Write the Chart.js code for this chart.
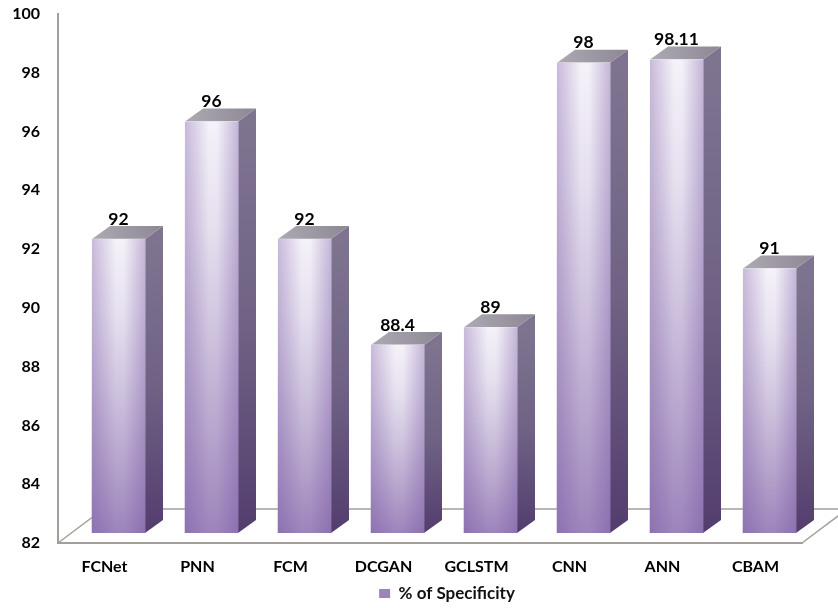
<!DOCTYPE html>
<html>
<head>
<meta charset="utf-8">
<title>% of Specificity</title>
<script src="https://cdn.jsdelivr.net/npm/chart.js@4"></script>
<style>
  html, body { margin: 0; padding: 0; background: #fff; }
  #wrap { position: relative; width: 838px; height: 608px; }
</style>
</head>
<body>
<div id="wrap"><canvas id="myChart" width="838" height="608"></canvas></div>
<script>
const categories = ["FCNet", "PNN", "FCM", "DCGAN", "GCLSTM", "CNN", "ANN", "CBAM"];
const specificity = [92, 96, 92, 88.4, 89, 98, 98.11, 91];
const yTicks = [82, 84, 86, 88, 90, 92, 94, 96, 98, 100];
const seriesName = "% of Specificity";

// offset of the bars from the front of the floor, and depth of the boxes
const shiftX = 14, shiftY = -10;
const depthX = 18, depthY = -13;
const fontFamily = "Lato, 'Open Sans', sans-serif";

function linear(ctx, x0, y0, x1, y1, stops) {
  const g = ctx.createLinearGradient(x0, y0, x1, y1);
  stops.forEach(function (s) { g.addColorStop(s[0], s[1]); });
  return g;
}

// vertical part of the front face, per bar
function frontFill(context) {
  const chart = context.chart;
  const y = chart.scales.y;
  if (context.parsed === undefined || !y || y.bottom === undefined) return "#b5a4d2";
  const top = y.getPixelForValue(context.parsed.y);
  return linear(chart.ctx, 0, top, 0, y.bottom, [
    [0, "#f5f2f9"],
    [0.25, "#e6e0ef"],
    [0.5, "#d0c5df"],
    [0.75, "#b7a6cd"],
    [1, "#9c84bb"]
  ]);
}

// back walls of the floor, drawn behind the bars
const floorPlugin = {
  id: "floor",
  afterLayout(chart) {
    // legend sits a little right of the plot centre
    chart.legend.left += 46;
    chart.legend.right += 46;
    chart.legend.top += 4;
    chart.legend.bottom += 4;
  },
  beforeDatasetsDraw(chart) {
    const { ctx, chartArea: a } = chart;
    const backY = a.bottom - 34;
    const run = 34 / 0.75;
    ctx.save();
    ctx.strokeStyle = "#a3a09c";
    ctx.lineWidth = 1.5;
    ctx.beginPath();
    ctx.moveTo(a.left, a.bottom);
    ctx.lineTo(a.left + run, backY);
    ctx.lineTo(a.right + run, backY);
    ctx.lineTo(a.right, a.bottom);
    ctx.stroke();
    ctx.restore();
  }
};

// side and top of each box, and the shift of the whole bar set
const boxPlugin = {
  id: "box",
  beforeDatasetDraw(chart, args) {
    const ctx = chart.ctx;
    ctx.save();
    ctx.translate(shiftX, shiftY);
    args.meta.data.forEach(function (bar) {
      const left = bar.x - bar.width / 2, right = bar.x + bar.width / 2;
      const top = bar.y, base = bar.base;

      ctx.fillStyle = linear(ctx, 0, top, 0, base, [[0, "#7f7490"], [0.5, "#6f6284"], [1, "#533d6e"]]);
      ctx.beginPath();
      ctx.moveTo(right, top);
      ctx.lineTo(right + depthX, top + depthY);
      ctx.lineTo(right + depthX, base + depthY);
      ctx.lineTo(right, base);
      ctx.closePath();
      ctx.fill();

      ctx.fillStyle = linear(ctx, left, top, right + depthX, top + depthY, [[0, "#aeaab2"], [1, "#8c8794"]]);
      ctx.beginPath();
      ctx.moveTo(left, top);
      ctx.lineTo(left + depthX, top + depthY);
      ctx.lineTo(right + depthX, top + depthY);
      ctx.lineTo(right, top);
      ctx.closePath();
      ctx.fill();
    });
  },
  afterDatasetDraw(chart, args) {
    const ctx = chart.ctx;
    // darker edges across the front face
    args.meta.data.forEach(function (bar) {
      const left = bar.x - bar.width / 2, right = bar.x + bar.width / 2;
      ctx.fillStyle = linear(ctx, left, 0, right, 0, [
        [0, "rgba(112,78,158,0.34)"],
        [0.45, "rgba(112,78,158,0)"],
        [0.6, "rgba(112,78,158,0)"],
        [1, "rgba(112,78,158,0.36)"]
      ]);
      ctx.fillRect(left, bar.y, right - left, bar.base - bar.y);
    });
    // value labels above the boxes
    ctx.fillStyle = "#000";
    ctx.font = "bold 17.5px " + fontFamily;
    ctx.textAlign = "center";
    ctx.textBaseline = "middle";
    args.meta.data.forEach(function (bar, i) {
      ctx.fillText(String(specificity[i]), bar.x, bar.y - 20);
    });
    ctx.restore();
  }
};

new Chart(document.getElementById("myChart"), {
  type: "bar",
  data: {
    labels: categories,
    datasets: [{
      label: seriesName,
      data: specificity,
      base: yTicks[0],
      backgroundColor: frontFill,
      borderWidth: 0,
      barThickness: 53
    }]
  },
  plugins: [floorPlugin, boxPlugin],
  options: {
    responsive: false,
    animation: false,
    layout: { padding: { top: 14, right: 36, left: 0, bottom: 0 } },
    plugins: {
      tooltip: { enabled: false },
      legend: {
        position: "bottom",
        labels: {
          boxWidth: 11,
          boxHeight: 9,
          padding: 1,
          color: "#111",
          font: { family: fontFamily, size: 17, weight: "bold" }
        }
      }
    },
    scales: {
      x: {
        afterFit(scale) { scale.height = 37; },
        grid: { display: false, drawTicks: false },
        border: { display: true, color: "#a3a09c", width: 2 },
        ticks: {
          padding: 14,
          color: "#000",
          maxRotation: 0,
          font: { family: fontFamily, size: 16, weight: "bold" }
        }
      },
      y: {
        min: yTicks[0],
        max: yTicks[yTicks.length - 1],
        afterBuildTicks(scale) { scale.ticks = yTicks.map(function (v) { return { value: v }; }); },
        afterFit(scale) {
          scale.width = 58;
          scale.paddingTop = 0;
          scale.paddingBottom = 0;
        },
        grid: { display: false, drawTicks: false },
        border: { display: true, color: "#a3a09c", width: 2 },
        ticks: {
          padding: 18,
          color: "#000",
          font: { family: fontFamily, size: 16, weight: "bold" }
        }
      }
    }
  }
});
</script>
</body>
</html>
